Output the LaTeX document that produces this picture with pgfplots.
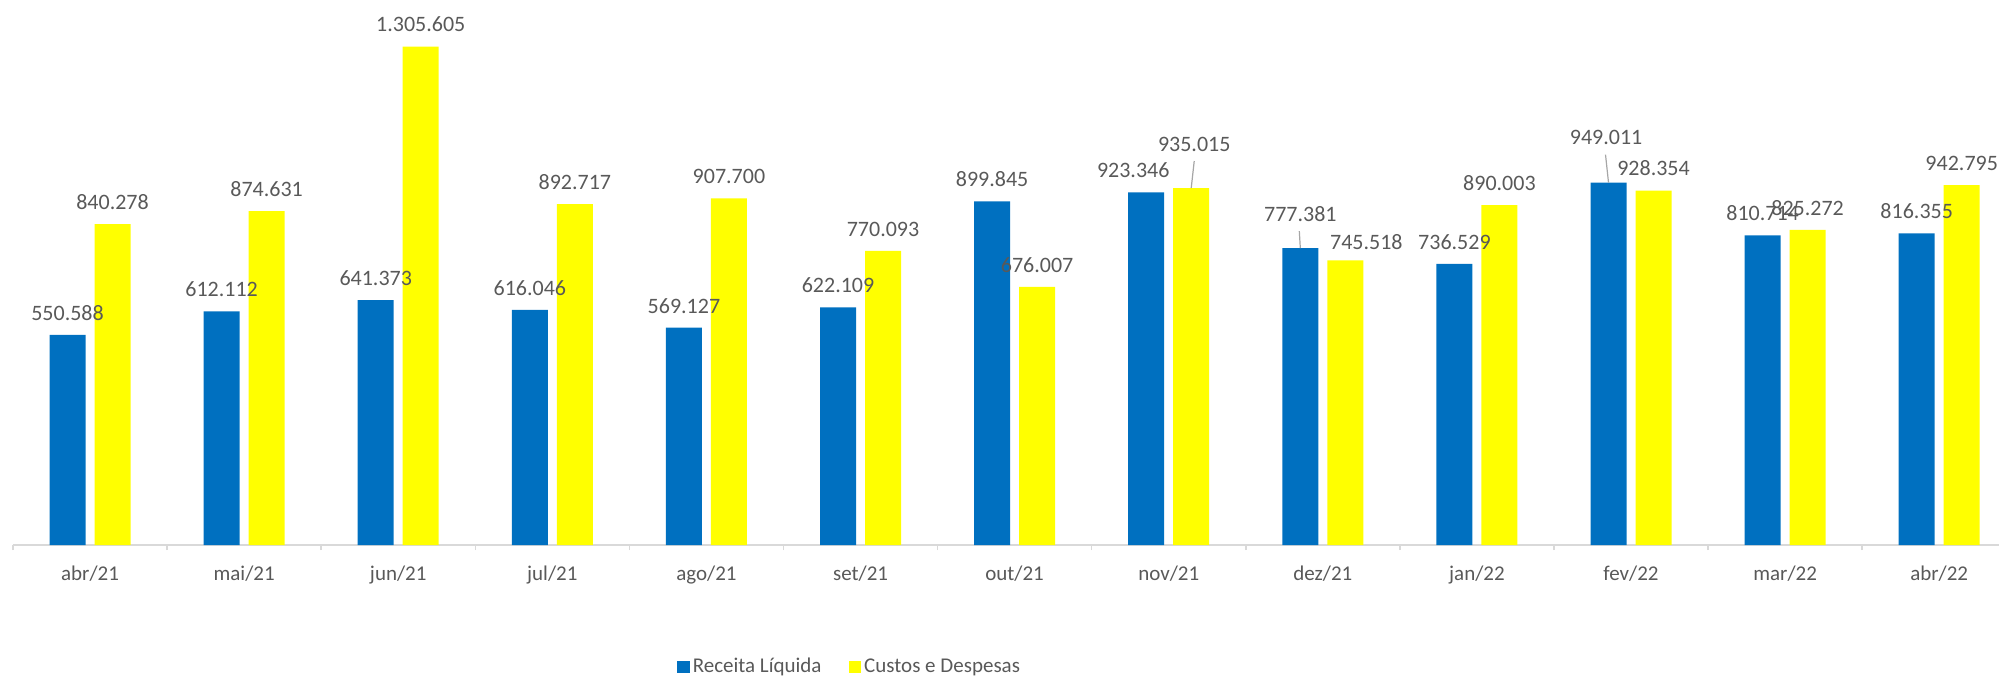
\documentclass[border=0pt]{standalone}
\usepackage{fontspec}
\setmainfont{Carlito}
\usepackage{pgfplots}
\usepackage{pgfplotstable}
\pgfplotsset{compat=1.18}
\definecolor{rblue}{RGB}{0,112,192}
\definecolor{cyel}{RGB}{255,255,0}
\definecolor{txt}{RGB}{89,89,89}
\definecolor{axgray}{RGB}{217,217,217}
\definecolor{lead}{RGB}{166,166,166}

\pgfplotstableread{
x  y        lbl        dx    dy
0  550588   550.588    0     0
1  612112   612.112    0     0
2  641373   641.373    0     0
3  616046   616.046    0     0
4  569127   569.127    0     0
5  622109   622.109    0     0
6  899845   899.845    0     0
7  923346   923.346    -6.5  0
8  777381   777.381    0     6
9  736529   736.529    0     0
10 949011   949.011    -1.2  11.5
11 810714   810.714    0     0
12 816355   816.355    0     0
}\receita

\pgfplotstableread{
x  y        lbl        dx    dy
0  840278   840.278    0     0
1  874631   874.631    0     0
2  1305605  1.305.605  0     0
3  892717   892.717    0     0
4  907700   907.700    0     0
5  770093   770.093    0     0
6  676007   676.007    0     0
7  935015   935.015    1.5   11
8  745518   745.518    10.5  -2
9  890003   890.003    0     0
10 928354   928.354    0     0
11 825272   825.272    0     0
12 942795   942.795    0     0
}\custos

\begin{document}
\begin{tikzpicture}
\begin{axis}[
  at={(0,0)}, anchor=south west,
  scale only axis,
  width=993pt, height=272.5pt,
  xmin=-0.5, xmax=12.388,
  ymin=0, ymax=1427400,
  ybar=4.5pt, bar width=18pt,
  axis y line=none,
  axis x line*=bottom,
  x axis line style={draw=axgray, line width=0.75pt},
  xtick={0,...,12},
  xticklabels={abr/21,mai/21,jun/21,jul/21,ago/21,set/21,out/21,nov/21,dez/21,jan/22,fev/22,mar/22,abr/22},
  major tick length=0pt,
  tick style={draw=axgray, line width=0.75pt},
  extra x ticks={-0.5,0.5,...,12.5},
  extra x tick labels={},
  extra x tick style={tick align=outside, major tick length=2.5pt},
  xticklabel style={font=\fontsize{10.5}{12}\selectfont, text=txt, anchor=base, yshift=-17.5pt},
  clip=false,
  point meta=explicit symbolic,
  nodes near coords={\pgfplotspointmeta},
  nodes near coords style={font=\fontsize{11}{13}\selectfont, text=txt, anchor=center, inner sep=0pt,
     xshift={(\dx)*1pt}, yshift={11pt+(\dy)*1pt}},
  legend style={at={(0.4215,-0.2239)}, anchor=center, draw=none, fill=none,
     legend columns=2, font=\fontsize{10.5}{12}\selectfont, text=txt,
     /tikz/every even column/.append style={column sep=12pt},
     nodes={inner xsep=1.5pt, inner ysep=0pt}},
  legend image code/.code={\fill[#1] (0pt,-3pt) rectangle (6.3pt,3pt);},
]
\addplot[fill=rblue, draw=none,
  visualization depends on={\thisrow{dx} \as \dx},
  visualization depends on={\thisrow{dy} \as \dy}]
  table[x=x, y=y, meta=lbl] {\receita};
\addlegendentry{Receita Líquida}
\addplot[fill=cyel, draw=none,
  visualization depends on={\thisrow{dx} \as \dx},
  visualization depends on={\thisrow{dy} \as \dy}]
  table[x=x, y=y, meta=lbl] {\custos};
\addlegendentry{Custos e Despesas}
\draw[lead, line width=0.6pt] ([xshift=11.25pt]axis cs:7,935015) -- ++(1.5pt,13.5pt);
\draw[lead, line width=0.6pt] ([xshift=-11.25pt]axis cs:8,777381) -- ++(-0.5pt,8.5pt);
\draw[lead, line width=0.6pt] ([xshift=-11.25pt]axis cs:10,949011) -- ++(-1.5pt,14pt);
\end{axis}
\pgfresetboundingbox
\useasboundingbox (-6.5pt,-66pt) rectangle (993pt,272.5pt);
\end{tikzpicture}
\end{document}
